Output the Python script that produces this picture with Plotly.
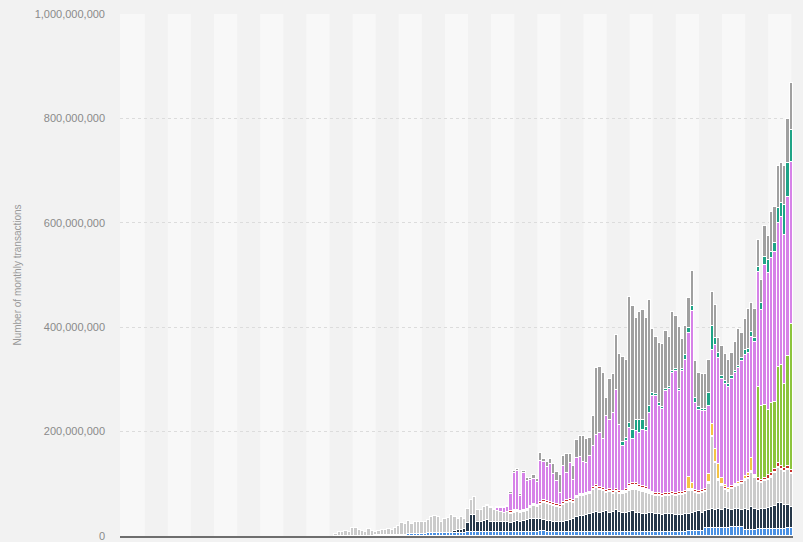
import plotly.graph_objects as go

# ---- categories: monthly, Jan 2009 .. Dec 2025 (204 months) ----
MONTH_NAMES = ["Jan", "Feb", "Mar", "Apr", "May", "Jun",
               "Jul", "Aug", "Sep", "Oct", "Nov", "Dec"]
months = [f"{m} {y}" for y in range(2009, 2026) for m in MONTH_NAMES]
FIRST_VISIBLE = 65          # first month with a visible bar (Jun 2014)
x_vals = months[FIRST_VISIBLE:]

# ---- series values (millions of transactions), from Jun 2014 onward ----
blue = [0]*12 + [1, 1, 1, 1, 1, 2, 2, 2, 2, 2, 3, 3, 3, 3, 3, 4, 5] + [6]*11 + [7]*19 + \
       [8, 8, 8, 9, 9, 8, 8, 8] + [7]*20 + [8]*20 + [9, 10, 10, 10, 10] + [16]*8 + \
       [17, 17, 17, 17, 12, 12, 12, 12, 13, 13, 13, 14, 14, 14, 13, 13, 14, 15, 15]

navy = [0]*36 + [4, 5, 6, 8, 17, 33, 33, 19, 19, 21, 24, 19, 20, 20, 20, 19, 20, 18, 20, 21, 19, 21, 23,
                 24, 25, 25, 23, 21, 20, 20, 19, 19, 19, 20, 21, 23, 25, 29, 31, 31, 33, 35, 37, 39, 38,
                 39, 41, 38, 39, 43, 39,
                 37, 36, 38, 39, 37, 36, 34, 35, 36, 37, 35, 34, 33, 34, 34, 35, 33, 32, 33, 34, 33, 34,
                 36, 37, 34, 32, 34, 35, 33,
                 36, 34, 37, 35, 33, 34, 35, 32, 39, 38, 43, 40,
                 37, 38, 39, 39, 41, 44, 50, 51, 45, 45, 41]

light_gray = [3, 7, 8, 10, 7, 15, 15, 11, 10, 8, 13, 10, 6, 9, 10, 10, 12, 9, 13, 17, 22, 21, 26, 20,
              23, 23, 23, 22, 26, 31, 32, 31, 21, 26, 28, 34,
              26, 21, 24, 18, 27, 29, 35, 24, 24, 27, 26, 27, 23, 21, 19, 19, 19, 18, 18, 18, 18, 18, 18,
              22, 24, 22, 28, 34, 34, 32, 31, 30, 28, 33, 36, 36, 32, 36, 38, 38, 38, 38, 44, 46, 43,
              40, 34, 39, 34, 34, 34,
              35, 38, 40, 41, 43, 42, 42, 39, 36, 33, 33, 34, 33, 34, 34, 35, 35, 38, 37, 38, 44, 42,
              36, 33, 38, 36, 50, 139, 91,
              53, 45, 35, 33, 40, 42, 43, 51, 54, 60, 65, 60,
              54, 50, 53, 55, 57, 62, 67, 62, 64, 66, 62]

white = [0]*53 + [2]*28 + [3]*6 + [4, 5, 10, 10, 10, 8, 8, 8, 6, 4] + [3]*10 + [2, 2] + [3]*4 + \
        [2]*3 + [2]*12 + [2]*11

red = [0]*53 + [2]*9 + [3]*25 + [3]*20 + [3, 2, 3, 3, 3, 3, 2, 0, 0] + [3]*12 + \
      [5, 4, 5, 6, 6, 7, 8, 7, 6, 7, 7]

yellow = [0]*107 + [22, 12, 0, 0, 0, 0, 15, 22, 25] + \
         [28, 12, 5, 3, 0, 2, 3, 0, 4, 6, 24, 0] + [0]*11

green = [0]*128 + [175, 143, 139, 125, 134, 128, 184, 193, 161, 209, 280]

violet = [0]*49 + [5, 7, 9, 9, 34, 72, 74, 29, 71, 54,
                   50, 49, 45, 78, 73, 65, 73, 56, 45, 24, 69, 52, 69, 39, 72, 70, 61, 56, 69, 80, 96,
                   104, 94, 142, 133, 150, 190, 127,
                   85, 92, 108, 84, 100, 101, 109, 108, 147, 183, 186, 167, 164, 195, 199, 229, 234, 193,
                   232, 252, 275, 329, 166, 156, 151, 149, 130, 142, 199,
                   203, 189, 193, 194, 206, 212, 218, 231, 232, 230, 232, 254,
                   220, 183, 268, 262, 278, 288, 275, 284, 285, 306, 310]

teal = [0]*87 + [9, 6, 10, 19, 22, 25, 19, 8, 13, 6, 4, 6, 4, 4, 4, 4, 4, 4, 4, 8, 10, 10, 11, 6, 4, 4,
                 25, 46, 13,
                 10, 5, 5, 5, 5, 5, 5, 5, 10, 8, 10, 8,
                 9, 13, 16, 26, 13, 16, 29, 25, 57, 64, 61]

dark_gray = [0]*46 + [2, 2, 2, 2, 2, 2, 2, 4, 4, 4, 4, 4, 5,
                      3, 6, 5, 16, 5, 9, 10, 19, 16, 33, 20, 37, 18, 26, 35, 40, 50, 46, 34, 56, 128,
                      126, 127, 35, 78, 75, 105, 136,
                      162, 149, 241, 236, 195, 206, 210, 209, 204, 123, 109, 114, 120, 111, 96, 112, 102,
                      119, 57, 56, 58, 66, 70, 65, 67, 67, 64, 66, 63,
                      29, 58, 52, 47, 45, 55, 70, 48, 59, 75, 56, 55,
                      52, 44, 59, 46, 76, 70, 81, 77, 75, 84, 89]

series = [
    ("Series 1", blue, "#4a90e2"),
    ("Series 2", navy, "#263749"),
    ("Series 3", light_gray, "#cbcbcb"),
    ("Series 4", white, "#ffffff"),
    ("Series 5", red, "#c9302c"),
    ("Series 6", yellow, "#f4c245"),
    ("Series 7", green, "#8cc43c"),
    ("Series 8", violet, "#d682e8"),
    ("Series 9", teal, "#1ea386"),
    ("Series 10", dark_gray, "#a0a0a0"),
]

fig = go.Figure()
for name, vals, color in series:
    fig.add_trace(go.Bar(
        x=x_vals, y=[v * 1e6 for v in vals], name=name,
        marker=dict(color=color, line=dict(color="#ffffff", width=1)),
    ))

# alternating vertical plot bands (every 7 categories)
shapes = []
n = len(months)
k = 0
while 7 * k < n:
    x0 = -0.5 if k == 0 else 7 * k
    x1 = min(7 * k + 7, n - 0.5)
    shapes.append(dict(type="rect", xref="x", yref="paper", x0=x0, x1=x1, y0=0, y1=1,
                       fillcolor="#f8f8f8", line=dict(width=0), layer="below"))
    k += 2

fig.update_layout(
    width=803, height=542,
    margin=dict(l=120, r=10, t=14, b=6, autoexpand=False),
    paper_bgcolor="#f2f2f2", plot_bgcolor="#f2f2f2",
    barmode="stack", bargap=0,
    showlegend=False,
    shapes=shapes,
    font=dict(family="Liberation Sans, Arial, sans-serif", color="#888888"),
    xaxis=dict(type="category", categoryorder="array", categoryarray=months,
               range=[-0.5, n - 0.5], showticklabels=False, showgrid=False, automargin=False,
               showline=True, linecolor="#6e6e6e", linewidth=2, ticks="", zeroline=False),
    yaxis=dict(range=[0, 1e9], tickvals=[0, 2e8, 4e8, 6e8, 8e8, 1e9], tickformat=",",
               showgrid=True, gridcolor="#dcdcdc", griddash="dot", gridwidth=1, automargin=False,
               zeroline=False, showline=False, ticks="", ticklabelstandoff=14,
               tickfont=dict(size=11, color="#8a8a8a"),
               title=dict(text="Number of monthly transactions", standoff=11,
                          font=dict(size=10, color="#999999"))),
)

fig.write_html(
    "out.html",
    config={"displayModeBar": False},
    post_script="document.body.style.margin='0';document.body.style.padding='0';"
                "document.body.style.overflow='hidden';"
                "document.body.style.background='#f2f2f2';",
)
